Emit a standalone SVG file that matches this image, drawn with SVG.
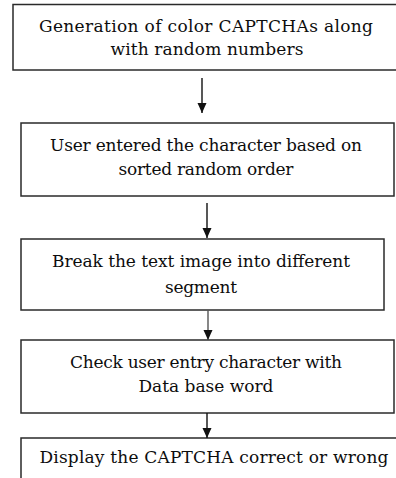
<svg xmlns="http://www.w3.org/2000/svg" width="396" height="478" viewBox="0 0 396 478">
<style>
.box{fill:#fff;stroke:#2a2a2a;stroke-width:1.5}
.t{font-family:'DejaVu Serif','Liberation Serif',serif;font-size:17px;fill:#0d0d0d;text-anchor:middle}
.c{stroke:#111;stroke-width:1.4;fill:none}
</style>
<defs>
<marker id="ah" markerUnits="userSpaceOnUse" markerWidth="10" markerHeight="10" viewBox="0 0 10 10" refX="10" refY="5" orient="auto">
<path d="M0,0.5 L10,5 L0,9.5 Z" fill="#111"/>
</marker>
</defs>
<rect width="396" height="478" fill="#fff"/>
<g id="n1">
<rect class="box" x="13" y="4.5" width="386" height="65.5"/>
<text class="t" x="206" y="32" textLength="334">Generation of color CAPTCHAs  along</text>
<text class="t" x="207" y="55" textLength="193">with random numbers</text>
</g>
<g id="n2">
<rect class="box" x="21" y="123" width="373" height="73"/>
<text class="t" x="206" y="151" textLength="312">User  entered the character based on</text>
<text class="t" x="206" y="175" textLength="175">sorted random order</text>
</g>
<g id="n3">
<rect class="box" x="21" y="239" width="363" height="71"/>
<text class="t" x="201" y="267" textLength="298">Break the text image into different</text>
<text class="t" x="201" y="293" textLength="72">segment</text>
</g>
<g id="n4">
<rect class="box" x="21" y="340" width="373" height="73"/>
<text class="t" x="206" y="368" textLength="272">Check user entry character with</text>
<text class="t" x="206" y="392" textLength="135">Data base word</text>
</g>
<g id="n5">
<rect class="box" x="21" y="438" width="380" height="50"/>
<text class="t" x="214" y="463" textLength="349">Display the CAPTCHA correct or wrong</text>
</g>
<g id="connectors">
<line class="c" x1="202" y1="78" x2="202" y2="113" marker-end="url(#ah)"/>
<line class="c" x1="207" y1="203" x2="207" y2="238" marker-end="url(#ah)"/>
<line class="c" x1="208" y1="310" x2="208" y2="340" marker-end="url(#ah)" style="stroke:#555"/>
<line class="c" x1="207" y1="413" x2="207" y2="438" marker-end="url(#ah)"/>
</g>
</svg>
